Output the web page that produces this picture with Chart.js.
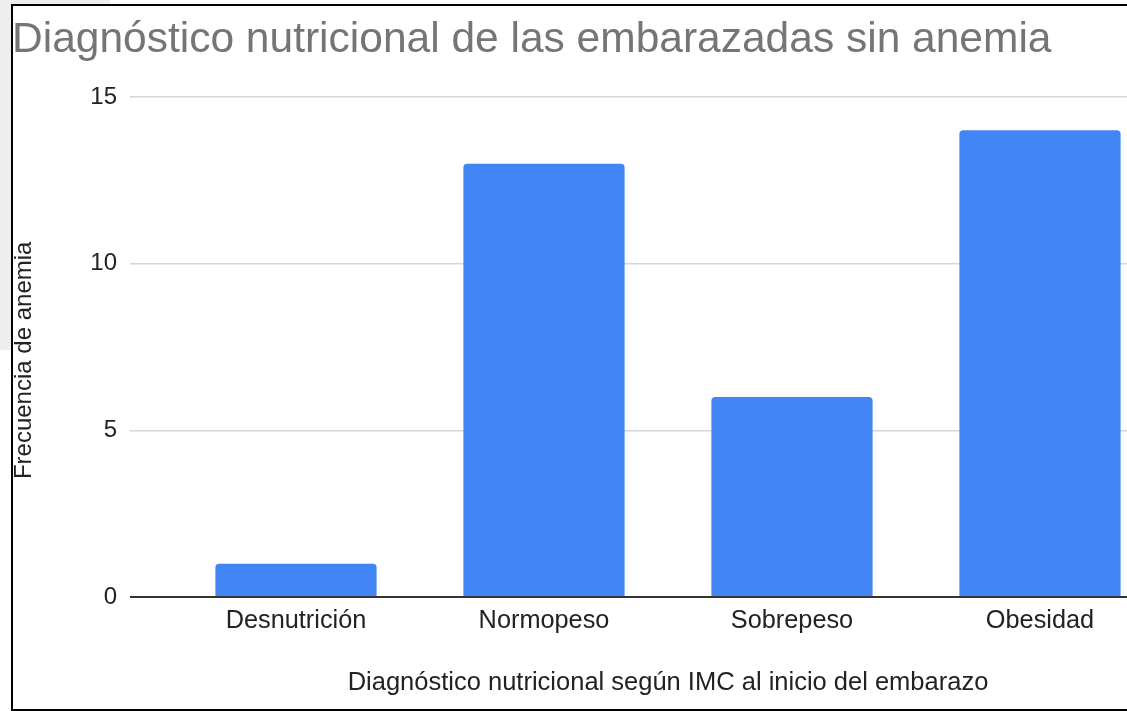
<!DOCTYPE html>
<html>
<head>
<meta charset="utf-8">
<script src="https://cdn.jsdelivr.net/npm/chart.js@4"></script>
<style>
  html, body { margin: 0; padding: 0; background: #fff; overflow: hidden; width: 1127px; height: 711px; }
  #strip { position: absolute; left: 0; top: 0; width: 12px; height: 350px; background: #eeeeee; }
  #stripTop { position: absolute; left: 0; top: 0; width: 110px; height: 5px; background: #eeeeee; }
  #chart { position: absolute; left: 0; top: 0; }
  #frame {
    position: absolute; left: 11px; top: 4px; width: 1200px; height: 703px;
    border-left: 2px solid #000; border-top: 2px solid #000; border-bottom: 2px solid #000;
    pointer-events: none;
  }
</style>
</head>
<body>
<div id="strip"></div>
<div id="stripTop"></div>
<canvas id="chart" width="1180" height="711"></canvas>
<div id="frame"></div>
<script>
const categories = ["Desnutrición", "Normopeso", "Sobrepeso", "Obesidad"];
const frecuencia = [1, 13, 6, 14];
const yTicks = [0, 5, 10, 15];

const titleText = "Diagnóstico nutricional de las embarazadas sin anemia";
const xTitle = "Diagnóstico nutricional según IMC al inicio del embarazo";
// trailing spaces nudge the rotated title down a little, like the original
const yTitle = "Frecuencia de anemia    ";

const fontFamily = "'Liberation Sans', Arial, sans-serif";

new Chart(document.getElementById("chart"), {
  type: "bar",
  data: {
    labels: categories,
    datasets: [{
      label: "Frecuencia de anemia",
      data: frecuencia,
      backgroundColor: "#4285f4",
      borderRadius: {topLeft: 4, topRight: 4, bottomLeft: 0, bottomRight: 0},
      borderSkipped: "bottom",
      barPercentage: 0.65,
      categoryPercentage: 1,
    }],
  },
  options: {
    responsive: false,
    animation: false,
    devicePixelRatio: 1,
    layout: {padding: {left: 12, right: 16, top: 0, bottom: 0}},
    plugins: {
      legend: {display: false},
      tooltip: {enabled: false},
      title: {
        display: true,
        text: titleText,
        align: "start",
        color: "#757575",
        font: {family: fontFamily, size: 42.5, weight: "normal"},
        padding: {top: 15, bottom: 31},
      },
    },
    scales: {
      x: {
        offset: true,
        grid: {display: false, drawTicks: false},
        border: {display: false},
        ticks: {
          color: "#222",
          padding: 9,
          maxRotation: 0,
          autoSkip: false,
          font: {family: fontFamily, size: 25.3},
        },
        title: {
          display: true,
          text: xTitle,
          color: "#222",
          font: {family: fontFamily, size: 25.5},
          padding: {top: 0, bottom: 13},
        },
        afterFit: scale => { scale.height = 114; },
      },
      y: {
        min: 0,
        max: 15,
        afterBuildTicks: scale => { scale.ticks = yTicks.map(v => ({value: v})); },
        grid: {
          drawTicks: true,
          tickLength: 42,
          color: ctx => (ctx.tick && ctx.tick.value === 0 ? "#333" : "#d6d6d6"),
          lineWidth: ctx => (ctx.tick && ctx.tick.value === 0 ? 2 : 1.5),
        },
        border: {display: false},
        ticks: {
          color: "#222",
          padding: 13,
          font: {family: fontFamily, size: 24},
        },
        title: {
          display: true,
          text: yTitle,
          color: "#222",
          font: {family: fontFamily, size: 24, lineHeight: 1},
          padding: {top: 0, bottom: 0},
        },
        afterFit: scale => { scale.width = 160; },
      },
    },
  },
});
</script>
</body>
</html>
